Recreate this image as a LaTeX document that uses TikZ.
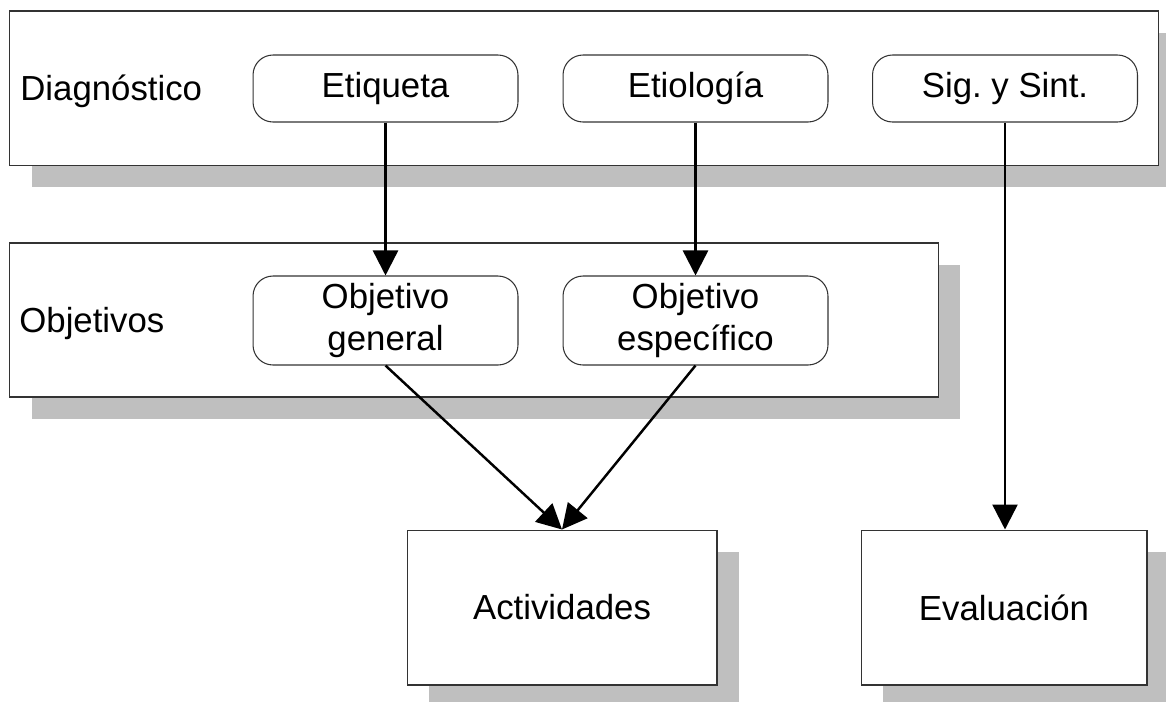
\documentclass[tikz,border=0pt]{standalone}
\usepackage{fontspec}
\setmainfont{Liberation Sans}
\usepackage{tikz}
\usetikzlibrary{arrows.meta, shadows}
\definecolor{shadowgray}{rgb}{0.75, 0.75, 0.75}
\definecolor{linegray}{rgb}{0.2, 0.2, 0.2}

\begin{document}
\begin{tikzpicture}[x = 0.02cm, y = -0.02cm,
  font = \fontsize{19.8}{24.4}\selectfont,
  panel/.style = {draw = linegray, line width = 0.6pt, fill = white, inner sep = 0pt,
    general shadow = {fill = shadowgray, shadow xshift = 0.44cm, shadow yshift = -0.44cm}},
  item/.style = {draw = linegray, line width = 0.6pt, fill = white, rounded corners = 0.4cm,
    minimum width = 5.3cm, inner sep = 0pt, align = center},
  flecha/.style = {line width = 1.4pt, -{Triangle[length = 0.5cm, width = 0.5cm]}}]

\clip (0, 0) rectangle (1166, 701);

\node [panel, minimum width = 22.99cm, minimum height = 3.09cm] (diagnostico) at (584.25, 88.25) {};
\node [panel, minimum width = 18.58cm, minimum height = 3.08cm] (objetivos) at (474, 320) {};
\node [panel, minimum width = 6.2cm, minimum height = 3.1cm] (actividades) at (562, 607.5) {Actividades};
\node [panel, minimum width = 5.72cm, minimum height = 3.1cm] (evaluacion) at (1004, 607.5) {Evaluación};

\node [anchor = base west, inner sep = 0pt] (diagtxt) at (20, 100) {Diagnóstico};
\node [anchor = base west, inner sep = 0pt] (objtxt) at (19, 332) {Objetivos};

\node [item, minimum height = 1.34cm] (etiqueta) at (385.5, 88.5) {Etiqueta};
\node [item, minimum height = 1.34cm] (etiologia) at (695.5, 88.5) {Etiología};
\node [item, minimum height = 1.34cm] (sigsint) at (1005, 88.5) {Sig.\ y Sint.};
\node [item, minimum height = 1.78cm] (objgeneral) at (385.5, 320.5) {Objetivo\\general};
\node [item, minimum height = 1.78cm] (objespecifico) at (695.5, 320.5) {Objetivo\\específico};

\draw [flecha] (etiqueta) -- (objgeneral);
\draw [flecha] (etiologia) -- (objespecifico);
\draw [flecha] (sigsint) -- (sigsint |- evaluacion.north);
\draw [flecha] (objgeneral.south) -- (actividades.north);
\draw [flecha] (objespecifico.south) -- (actividades.north);
\end{tikzpicture}
\end{document}
